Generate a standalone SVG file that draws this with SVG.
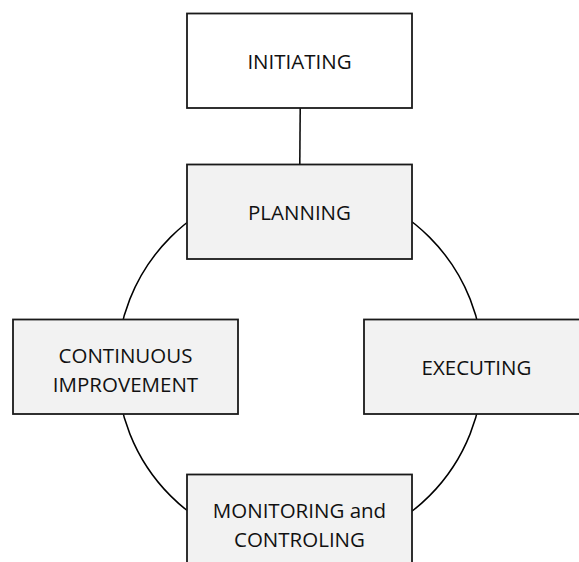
<svg xmlns="http://www.w3.org/2000/svg" width="579" height="562" viewBox="0 0 579 562">
<style>
.box{stroke:#1a1a1a;stroke-width:1.8}
.w{fill:#ffffff}
.g{fill:#f2f2f2}
.conn{fill:none;stroke:#000;stroke-width:1.5}
text{font-family:"Open Sans","Liberation Sans",sans-serif;font-size:20.5px;fill:#111;text-anchor:middle}
</style>
<rect width="579" height="562" fill="#ffffff"/>
<g id="connectors">
<circle class="conn" cx="300" cy="366.5" r="183"/>
<line class="conn" x1="300.2" y1="108" x2="299.8" y2="165"/>
</g>
<g id="initiating">
<rect class="box w" x="187" y="13.5" width="225" height="94.5"/>
<text x="299.5" y="69">INITIATING</text>
</g>
<g id="planning">
<rect class="box g" x="187" y="164.5" width="225" height="94.5"/>
<text x="299.5" y="219.5">PLANNING</text>
</g>
<g id="continuous">
<rect class="box g" x="13" y="319.5" width="225" height="94.5"/>
<text x="125.5" y="363">CONTINUOUS</text>
<text x="125.5" y="391.5">IMPROVEMENT</text>
</g>
<g id="executing">
<rect class="box g" x="364" y="319.5" width="225" height="94.5"/>
<text x="476.5" y="374.5">EXECUTING</text>
</g>
<g id="monitoring">
<rect class="box g" x="187" y="474.5" width="225" height="94.5"/>
<text x="299.5" y="518">MONITORING and</text>
<text x="299.5" y="546.5">CONTROLING</text>
</g>
</svg>
